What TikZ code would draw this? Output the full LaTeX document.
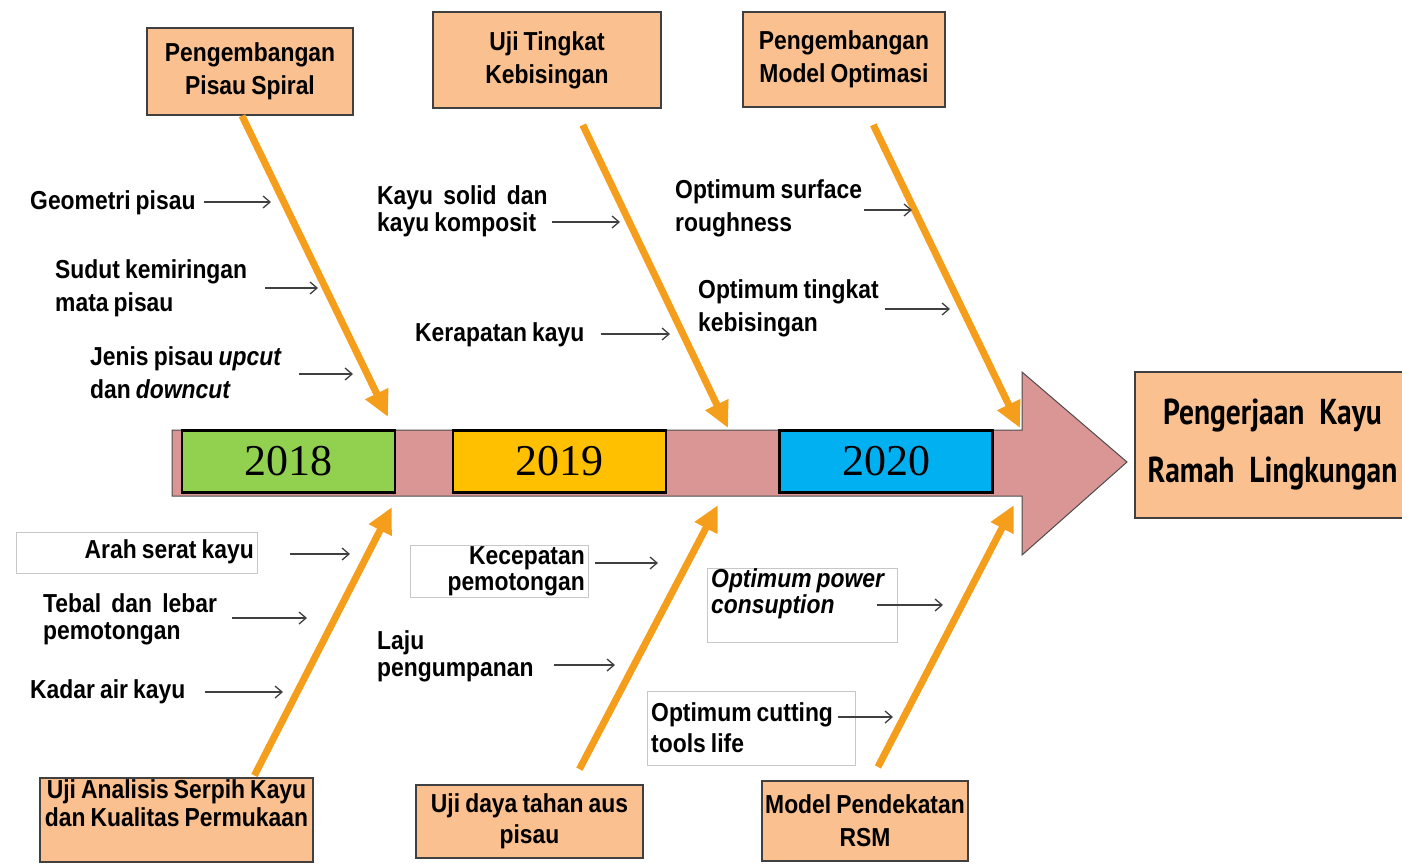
\documentclass[tikz,border=0pt]{standalone}
\usepackage{fontspec}
\usetikzlibrary{arrows.meta}
\setmainfont{Liberation Sans}
\newfontfamily\lblfont{Liberation Sans}[FakeStretch=0.88, WordSpace=0.8]
\newfontfamily\yearfont{Liberation Serif}
\newfontfamily\goalfont{PT Sans}[FakeStretch=0.82]

\definecolor{boxfill}{RGB}{250,192,144}
\definecolor{boneorange}{RGB}{245,158,28}
\definecolor{spinepink}{RGB}{217,150,148}
\definecolor{yrgreen}{RGB}{146,208,80}
\definecolor{yrgold}{RGB}{255,192,0}
\definecolor{yrblue}{RGB}{0,176,240}

\newcommand{\lbltxt}{\lblfont\bfseries\fontsize{26}{33}\selectfont}
\newcommand{\lbltight}{\lblfont\bfseries\fontsize{26}{27}\selectfont}

\tikzset{
  stage/.style={draw=black!75, line width=1.5pt, fill=boxfill, align=center, inner sep=0pt, font=\lbltxt},
  cause/.style={align=left, inner sep=0pt, font=\lbltxt},
  causebox/.style={draw=black!22, line width=0.8pt, inner sep=0pt},
  yearbox/.style={draw=black, line width=2.5pt, minimum width=213, minimum height=62, font=\yearfont\fontsize{44}{44}\selectfont},
  bonearrow/.style={draw=boneorange, line width=7pt, -{Triangle[length=26pt,width=24pt]}},
  causearrow/.style={draw=black!75, line width=1.3pt, -{Straight Barb[length=7pt,width=12pt]}}
}

\begin{document}
\begin{tikzpicture}[x=1pt, y=-1pt]
\useasboundingbox (0,0) rectangle (1402,864);

% spine with arrow head
\draw[fill=spinepink, draw=black!70, line width=1pt] (172,430) -- (1022,430) -- (1022,372) -- (1127,462) -- (1022,555) -- (1022,496) -- (172,496) -- cycle;

% years on the spine
\node[yearbox, fill=yrgreen] (y2018) at (288.5,461.5) {2018};
\node[yearbox, fill=yrgold] (y2019) at (559.5,461.5) {2019};
\node[yearbox, fill=yrblue] (y2020) at (886,461.5) {2020};

% stages, top and bottom
\node[stage, minimum width=206, minimum height=87] (pisau) at (250,71.5) {Pengembangan\\Pisau Spiral};
\node[stage, minimum width=228, minimum height=96] (bising) at (547,60) {Uji Tingkat\\Kebisingan};
\node[stage, minimum width=202, minimum height=95] (optim) at (844,59.5) {Pengembangan\\Model Optimasi};
\node[stage, minimum width=273, minimum height=84, font=\lblfont\bfseries\fontsize{26}{28}\selectfont] (serpih) at (176.5,820) {Uji Analisis Serpih Kayu\\dan Kualitas Permukaan\\[6pt]};
\node[stage, minimum width=227, minimum height=73, font=\lblfont\bfseries\fontsize{26}{31}\selectfont] (aus) at (529.5,821.5) {Uji daya tahan aus\\pisau};
\node[stage, minimum width=206, minimum height=80] (rsm) at (865,821) {Model Pendekatan\\RSM};

% goal
\node[stage, minimum width=275, minimum height=146, font=\goalfont\bfseries\fontsize{36}{58}\selectfont] (goal) at (1272.5,445) {Pengerjaan\ \ Kayu\\Ramah\ \ Lingkungan};

% ends of the bones
\coordinate (up18) at (388,417);
\coordinate (up19) at (728,428);
\coordinate (up20) at (1020,428);
\coordinate (dn18) at (392,507);
\coordinate (dn19) at (718,505);
\coordinate (dn20) at (1014,505);

\draw[bonearrow] ([xshift=-8pt]pisau.south) -- (up18);
\draw[bonearrow, shorten <=18pt] ([xshift=28pt]bising.south) -- (up19);
\draw[bonearrow, shorten <=19pt] ([xshift=21pt]optim.south) -- (up20);
\draw[bonearrow, shorten <=2pt] ([xshift=77pt]serpih.north) -- (dn18);
\draw[bonearrow, shorten <=17pt] ([xshift=42pt]aus.north) -- (dn19);
\draw[bonearrow, shorten <=15pt] ([xshift=6pt]rsm.north) -- (dn20);

% causes above the spine
\node[cause, anchor=west] (geo) at (30,203) {Geometri pisau};
\node[cause, anchor=west] (sudut) at (55,288) {Sudut kemiringan\\mata pisau};
\node[cause, anchor=west] (jenis) at (90,373) {Jenis pisau \textit{upcut}\\dan \textit{downcut}};
\node[cause, anchor=west, font=\lbltight] (kayu) at (377,211) {Kayu~ solid~ dan\\kayu komposit};
\node[cause, anchor=west] (kerap) at (415,335) {Kerapatan kayu};
\node[cause, anchor=west] (surf) at (675,208) {Optimum surface\\roughness};
\node[cause, anchor=west] (tingkat) at (698,308) {Optimum tingkat\\kebisingan};

% causes below the spine
\node[causebox, minimum width=241, minimum height=41] (arahbox) at (136.5,552.5) {};
\node[cause, anchor=east] (arah) at (254,552) {Arah serat kayu};
\node[cause, anchor=west, font=\lbltight] (tebal) at (43,619) {Tebal~ dan~ lebar\\pemotongan};
\node[cause, anchor=west] (kadar) at (30,692) {Kadar air kayu};
\node[causebox, minimum width=178, minimum height=52] (cepatbox) at (499,571) {};
\node[cause, anchor=east, align=right, font=\lblfont\bfseries\fontsize{26}{26}\selectfont] (cepat) at (585,571) {Kecepatan\\pemotongan};
\node[cause, anchor=west, font=\lbltight] (laju) at (377,656) {Laju\\pengumpanan};
\node[causebox, minimum width=190, minimum height=74] (powerbox) at (802,605) {};
\node[cause, anchor=north west, font=\lblfont\bfseries\itshape\fontsize{26}{26}\selectfont] (power) at (711,568) {Optimum power\\consuption};
\node[causebox, minimum width=208, minimum height=74] (cuttingbox) at (751,728) {};
\node[cause, anchor=west, font=\lblfont\bfseries\fontsize{26}{31}\selectfont] (cutting) at (651,728) {Optimum cutting\\tools life};

% small arrows to the bones
\coordinate (geoE) at (271,202);
\coordinate (sudutE) at (318,288);
\coordinate (jenisE) at (353,374);
\coordinate (kayuE) at (620,222);
\coordinate (kerapE) at (670,334);
\coordinate (surfE) at (912,210);
\coordinate (tingkatE) at (950,309);
\coordinate (arahE) at (350,554);
\coordinate (tebalE) at (307,618);
\coordinate (kadarE) at (283,692);
\coordinate (cepatE) at (658,563);
\coordinate (lajuE) at (615,665);
\coordinate (powerE) at (943,605);
\coordinate (cuttingE) at (893,717);

\draw[causearrow] (geo.east |- geoE) ++(8,0) -- (geoE);
\draw[causearrow] (sudut.east |- sudutE) ++(18,0) -- (sudutE);
\draw[causearrow] (jenis.east |- jenisE) ++(17,0) -- (jenisE);
\draw[causearrow] (kayu.east |- kayuE) ++(4,0) -- (kayuE);
\draw[causearrow] (kerap.east |- kerapE) ++(16,0) -- (kerapE);
\draw[causearrow] (surf.east |- surfE) ++(2,0) -- (surfE);
\draw[causearrow] (tingkat.east |- tingkatE) ++(6,0) -- (tingkatE);
\draw[causearrow] (arahbox.east |- arahE) ++(33,0) -- (arahE);
\draw[causearrow] (tebal.east |- tebalE) ++(15,0) -- (tebalE);
\draw[causearrow] (kadar.east |- kadarE) ++(19,0) -- (kadarE);
\draw[causearrow] (cepatbox.east |- cepatE) ++(7,0) -- (cepatE);
\draw[causearrow] (laju.east |- lajuE) ++(20,0) -- (lajuE);
\draw[causearrow] (power.east |- powerE) ++(-7,0) -- (powerE);
\draw[causearrow] (cutting.east |- cuttingE) ++(5,0) -- (cuttingE);
\end{tikzpicture}
\end{document}
